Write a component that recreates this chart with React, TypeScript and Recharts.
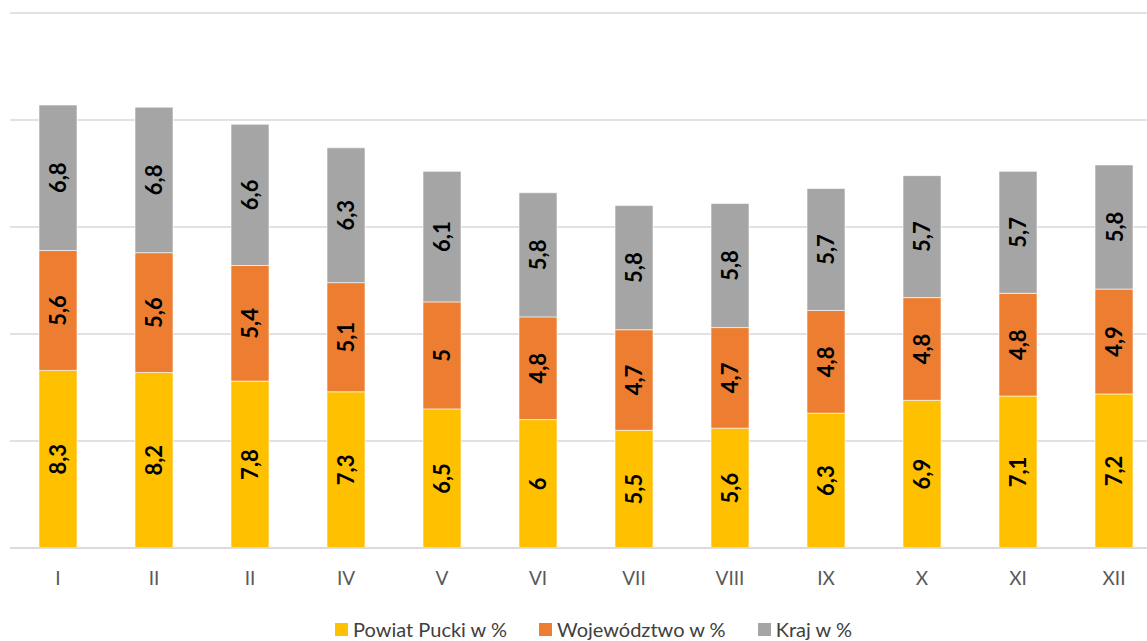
import React from 'react';
import { BarChart, Bar, XAxis, YAxis, CartesianGrid, Legend, LabelList } from 'recharts';

const months = ['I', 'II', 'II', 'IV', 'V', 'VI', 'VII', 'VIII', 'IX', 'X', 'XI', 'XII'];
const powiat = [8.3, 8.2, 7.8, 7.3, 6.5, 6, 5.5, 5.6, 6.3, 6.9, 7.1, 7.2];
const wojewodztwo = [5.6, 5.6, 5.4, 5.1, 5, 4.8, 4.7, 4.7, 4.8, 4.8, 4.8, 4.9];
const kraj = [6.8, 6.8, 6.6, 6.3, 6.1, 5.8, 5.8, 5.8, 5.7, 5.7, 5.7, 5.8];
const yTicks = [0, 5, 10, 15, 20, 25];

const seriesNames = ['Powiat Pucki w %', 'Województwo w %', 'Kraj w %'];
const colors = ['#FFC000', '#ED7D31', '#A5A5A5'];

const data = months.map((m, i) => ({
  month: m,
  powiat: powiat[i],
  woj: wojewodztwo[i],
  kraj: kraj[i],
}));

const fmt = (v: any) => String(v).replace('.', ',');

const RotLabel = (props: any) => {
  const { x, y, width, height, value } = props;
  const cx = x + width / 2;
  const cy = y + height / 2;
  return (
    <text
      x={cx}
      y={cy}
      transform={`rotate(-90, ${cx}, ${cy})`}
      textAnchor="middle"
      dominantBaseline="central"
      fontFamily="Lato, sans-serif"
      fontWeight={700}
      fontSize={22}
      fill="#000000"
    >
      {fmt(value)}
    </text>
  );
};

const LegendContent = () => (
  <div
    style={{
      display: 'flex',
      justifyContent: 'center',
      alignItems: 'center',
      fontFamily: 'Lato, sans-serif',
      fontSize: 20,
      lineHeight: '22px',
      color: '#404040',
      height: 30,
      paddingLeft: 15,
      position: 'relative',
      top: 3,
    }}
  >
    {seriesNames.map((n, i) => (
      <div key={n} style={{ display: 'flex', alignItems: 'center', marginRight: i < 2 ? 32 : 0 }}>
        <div style={{ width: 13, height: 13, background: colors[i], marginRight: 5 }} />
        <span>{n}</span>
      </div>
    ))}
  </div>
);

export default function App() {
  return (
    <div style={{ position: 'absolute', left: 0, top: 0, width: 1147, height: 641, overflow: 'hidden', background: '#fff' }}>
      <BarChart
        width={1164}
        height={641}
        data={data}
        margin={{ top: 13, right: 2, left: 10, bottom: 0 }}
        barCategoryGap={0}
      >
        <CartesianGrid vertical={false} stroke="#D9D9D9" strokeWidth={1.5} />
        <YAxis hide domain={[0, 25]} ticks={yTicks} />
        <XAxis
          dataKey="month"
          axisLine={{ stroke: '#D9D9D9', strokeWidth: 1.5 }}
          tickLine={false}
          tickSize={0}
          tickMargin={24}
          height={63}
          interval={0}
          tick={{ fill: '#595959', fontSize: 19, fontFamily: 'Lato, sans-serif' }}
        />
        <Legend verticalAlign="bottom" content={<LegendContent />} />
        <Bar dataKey="powiat" stackId="a" fill={colors[0]} barSize={38} stroke="#ffffff" strokeWidth={0.6} isAnimationActive={false}>
          <LabelList dataKey="powiat" content={<RotLabel />} />
        </Bar>
        <Bar dataKey="woj" stackId="a" fill={colors[1]} barSize={38} stroke="#ffffff" strokeWidth={0.6} isAnimationActive={false}>
          <LabelList dataKey="woj" content={<RotLabel />} />
        </Bar>
        <Bar dataKey="kraj" stackId="a" fill={colors[2]} barSize={38} stroke="#ffffff" strokeWidth={0.6} isAnimationActive={false}>
          <LabelList dataKey="kraj" content={<RotLabel />} />
        </Bar>
      </BarChart>
    </div>
  );
}
